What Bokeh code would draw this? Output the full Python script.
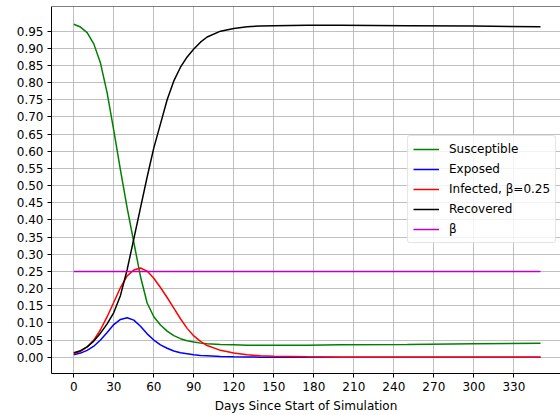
from bokeh.plotting import figure
from bokeh.models import Range1d, FixedTicker, PrintfTickFormatter, Span, Legend, LegendItem
from bokeh.embed import file_html
from bokeh.resources import INLINE

# ---- data ----
days = [0, 5, 10, 15, 20, 25, 30, 35, 40, 45, 50, 55, 60, 65, 70, 75, 80, 85, 90, 95,
        100, 110, 120, 130, 140, 150, 175, 200, 250, 300, 350]
susceptible = [0.970, 0.962, 0.946, 0.913, 0.857, 0.770, 0.660, 0.545, 0.435, 0.335,
               0.235, 0.158, 0.118, 0.094, 0.076, 0.063, 0.054, 0.048, 0.044, 0.041,
               0.039, 0.037, 0.036, 0.035, 0.035, 0.035, 0.035, 0.036, 0.037, 0.039, 0.041]
exposed = [0.007, 0.012, 0.020, 0.032, 0.050, 0.072, 0.095, 0.110, 0.115, 0.108,
           0.090, 0.068, 0.050, 0.036, 0.026, 0.018, 0.013, 0.010, 0.007, 0.005,
           0.004, 0.002, 0.001, 0.0005, 0.0002, 0.0001, 0.0, 0.0, 0.0, 0.0, 0.0]
infected = [0.010, 0.017, 0.030, 0.050, 0.080, 0.118, 0.160, 0.203, 0.237, 0.254,
            0.260, 0.251, 0.230, 0.203, 0.174, 0.143, 0.112, 0.084, 0.062, 0.046,
            0.034, 0.020, 0.012, 0.007, 0.004, 0.003, 0.001, 0.0, 0.0, 0.0, 0.0]
recovered = [0.013, 0.019, 0.030, 0.047, 0.070, 0.097, 0.130, 0.180, 0.255, 0.345,
             0.435, 0.525, 0.610, 0.680, 0.750, 0.805, 0.845, 0.875, 0.898, 0.918,
             0.933, 0.950, 0.958, 0.963, 0.965, 0.966, 0.967, 0.967, 0.966, 0.965, 0.963]
beta_days = [0, 350]
beta = [0.25, 0.25]

x_ticks = [0, 30, 60, 90, 120, 150, 180, 210, 240, 270, 300, 330]
y_ticks = [0.00, 0.05, 0.10, 0.15, 0.20, 0.25, 0.30, 0.35, 0.40, 0.45,
           0.50, 0.55, 0.60, 0.65, 0.70, 0.75, 0.80, 0.85, 0.90, 0.95]

labels = ["Susceptible", "Exposed", "Infected, \u03b2=0.25", "Recovered", "\u03b2"]
x_label = "Days Since Start of Simulation"

FONT = "DejaVu Sans"
Y_TOP = 1.0219

p = figure(width=560, height=415, output_backend="svg", toolbar_location=None,
           x_range=Range1d(-16.73, 365.0), y_range=Range1d(-0.0475, Y_TOP),
           min_border_left=51, min_border_right=0, min_border_top=6, min_border_bottom=42)
p.outline_line_color = None
p.background_fill_color = "white"
p.border_fill_color = "white"

for ax in (p.xaxis[0], p.yaxis[0]):
    ax.axis_line_color = "black"
    ax.axis_line_width = 1
    ax.major_tick_line_color = "black"
    ax.major_tick_out = 4
    ax.major_tick_in = 0
    ax.minor_tick_line_color = None
    ax.major_label_text_font = FONT
    ax.major_label_text_font_size = "12px"
    ax.major_label_text_color = "black"

p.xaxis.ticker = FixedTicker(ticks=x_ticks)
p.yaxis.ticker = FixedTicker(ticks=y_ticks)
p.yaxis.formatter = PrintfTickFormatter(format="%.2f")
p.xaxis.major_label_standoff = 4
p.yaxis.major_label_standoff = 4
p.xaxis.axis_label = x_label
p.xaxis.axis_label_text_font = FONT
p.xaxis.axis_label_text_font_size = "12px"
p.xaxis.axis_label_text_font_style = "normal"
p.xaxis.axis_label_text_color = "black"
p.xaxis.axis_label_standoff = 5

p.grid.grid_line_color = "#b0b0b0"
p.grid.grid_line_width = 0.8

top_line = Span(location=Y_TOP, dimension="width", line_color="black", line_width=1)
p.add_layout(top_line)

r_s = p.line(days, susceptible, line_color="green", line_width=1.5)
r_e = p.line(days, exposed, line_color="blue", line_width=1.5)
r_i = p.line(days, infected, line_color="red", line_width=1.5)
r_r = p.line(days, recovered, line_color="black", line_width=1.5)
r_b = p.line(beta_days, beta, line_color="#bf00bf", line_width=1.5)

legend = Legend(items=[LegendItem(label=labels[0], renderers=[r_s]),
                       LegendItem(label=labels[1], renderers=[r_e]),
                       LegendItem(label=labels[2], renderers=[r_i]),
                       LegendItem(label=labels[3], renderers=[r_r]),
                       LegendItem(label=labels[4], renderers=[r_b])],
                location=(356, 130))
legend.label_text_font = FONT
legend.label_text_font_size = "12px"
legend.label_text_color = "black"
legend.glyph_width = 26
legend.glyph_height = 16
legend.label_height = 16
legend.label_standoff = 10
legend.spacing = 4
legend.padding = 5
legend.margin = 0
legend.border_line_color = "#cccccc"
legend.border_line_width = 1
legend.background_fill_alpha = 0.8
legend.border_radius = 3
p.add_layout(legend)

open("out.html", "w").write(file_html(p, INLINE))
